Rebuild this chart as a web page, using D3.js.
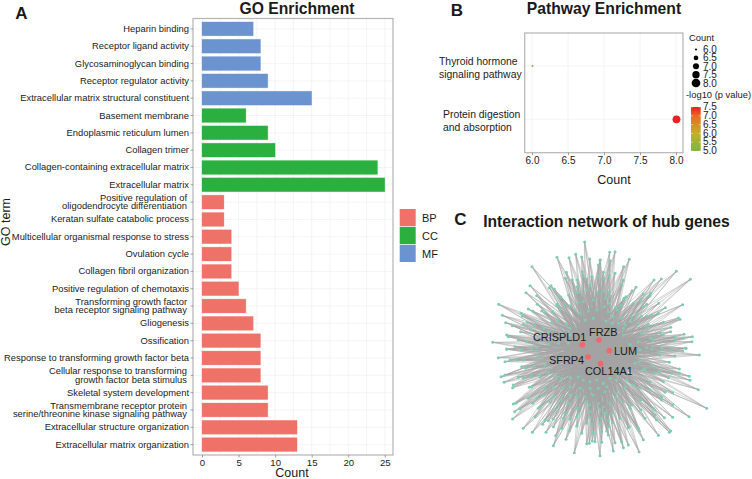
<!DOCTYPE html>
<html><head><meta charset="utf-8">
<script src="https://cdn.jsdelivr.net/npm/d3@7"></script>
<style>html,body{margin:0;padding:0;background:#fff}svg{display:block}text{font-family:"Liberation Sans",Arial,sans-serif;fill:#1a1a1a}</style>
</head><body><div id="c"></div>
<script>
// ---------- Panel A data (bottom to top) ----------
const goTerms = ["Extracellular matrix organization","Extracellular structure organization","Transmembrane receptor protein\nserine/threonine kinase signaling pathway","Skeletal system development","Cellular response to transforming\ngrowth factor beta stimulus","Response to transforming growth factor beta","Ossification","Gliogenesis","Transforming growth factor\nbeta receptor signaling pathway","Positive regulation of chemotaxis","Collagen fibril organization","Ovulation cycle","Multicellular organismal response to stress","Keratan sulfate catabolic process","Positive regulation of\noligodendrocyte differentiation","Extracellular matrix","Collagen-containing extracellular matrix","Collagen trimer","Endoplasmic reticulum lumen","Basement membrane","Extracellular matrix structural constituent","Receptor regulator activity","Glycosaminoglycan binding","Receptor ligand activity","Heparin binding"];
const goCounts = [13,13,9,9,8,8,8,7,6,5,4,4,4,3,3,25,24,10,9,6,15,9,8,8,7];
const goGroups = ["BP","BP","BP","BP","BP","BP","BP","BP","BP","BP","BP","BP","BP","BP","BP","CC","CC","CC","CC","CC","MF","MF","MF","MF","MF"];
const groupNames = ["BP","CC","MF"];
const groupColors = ["#ee7268","#2bb040","#6a93cf"];
const goTicks = [0,5,10,15,20,25];
// ---------- Panel B data ----------
const pathways = ["Protein digestion\nand absorption","Thyroid hormone\nsignaling pathway"];
const pathCounts = [8,6];
const pathLogP = [7.5,5];
const pathTicks = [6,6.5,7,7.5,8];
const sizeLegend = [6,6.5,7,7.5,8];
const colorLegend = [7.5,7,6.5,6,5.5,5];
// ---------- Panel C data ----------
const hubNames = ["CRISPLD1","FRZB","LUM","SFRP4","COL14A1"];
const hubX = [277,327,358,294,332];
const hubY = [329,315,347,366,386];
const leavesNW = [[284,21],[201,67],[237,68],[257,58],[275,66],[299,72],[330,75],[325,90],[126,95],[229,112],[277,110],[280,123],[305,125],[325,125],[226,130],[246,135],[262,135],[290,132],[120,152],[183,152],[178,158],[193,162],[262,155],[268,170],[258,172],[108,173],[140,182],[205,182],[212,186],[236,180],[290,165],[300,150],[320,170],[26,208],[142,208],[202,207],[200,212],[224,208],[240,212],[265,202],[280,200],[310,195],[115,222],[128,228],[155,228],[93,235],[97,243],[37,241],[165,235],[188,230],[210,225],[255,225],[270,235],[295,228],[320,225],[47,263],[67,272],[100,268],[112,262],[135,268],[160,280],[185,262],[205,255],[230,268],[240,280],[285,255],[310,250],[50,300],[92,290],[122,285],[150,295],[175,290],[215,298],[240,300],[8,322],[85,315],[55,305],[110,320],[135,310],[175,328],[205,325],[235,325],[50,342],[75,335],[140,338]];
const leavesNE = [[359,52],[375,50],[418,73],[331,75],[361,77],[401,95],[559,109],[601,133],[492,135],[514,132],[340,112],[375,115],[357,122],[342,130],[400,135],[395,150],[438,157],[426,167],[342,168],[355,172],[482,175],[460,177],[480,183],[408,185],[402,190],[362,183],[348,190],[452,195],[430,205],[400,195],[392,212],[470,208],[506,205],[578,209],[526,218],[343,215],[358,205],[377,217],[382,225],[355,230],[460,215],[505,235],[565,249],[570,253],[485,240],[470,243],[455,243],[440,240],[425,245],[370,245],[395,250],[348,258],[365,265],[385,265],[423,260],[445,265],[475,268],[495,270],[520,262],[542,277],[542,290],[512,293],[520,300],[455,295],[405,270],[400,280],[470,280],[582,298],[607,305],[580,310],[554,305],[555,317],[606,320],[482,310],[490,315],[445,320],[420,328],[400,300],[515,340],[545,340],[588,340]];
const leavesSW = [[25,368],[50,343],[95,345],[125,340],[145,365],[45,380],[60,375],[80,375],[100,375],[95,395],[107,400],[130,395],[165,390],[33,425],[45,420],[85,427],[100,430],[125,425],[150,425],[175,415],[200,425],[215,430],[240,427],[265,425],[280,435],[300,440],[320,435],[340,445],[42,442],[70,450],[68,458],[118,457],[125,455],[165,460],[190,455],[220,460],[240,455],[270,460],[300,460],[325,460],[345,470],[115,490],[140,490],[160,480],[190,485],[215,495],[240,480],[260,485],[285,485],[310,480],[70,507],[78,505],[128,505],[180,502],[205,510],[235,505],[262,520],[290,500],[325,505],[90,522],[145,520],[150,515],[195,525],[225,535],[260,545],[298,510],[300,530],[330,525],[345,535],[74,530],[68,552],[135,545],[165,555],[175,557],[190,552],[220,550],[240,552],[265,535],[300,545],[355,555],[100,580],[127,592],[158,568],[190,575],[215,580],[260,573],[290,565],[305,568],[330,565],[355,575],[168,592],[197,602],[238,588],[275,595],[228,613],[190,632],[310,595],[335,590],[290,626],[298,625],[307,618],[315,620],[253,653],[330,662]];
const leavesSE = [[628,360],[587,340],[578,348],[555,363],[538,382],[506,350],[485,342],[510,360],[450,345],[470,338],[505,410],[510,408],[493,415],[485,390],[465,402],[458,405],[568,402],[568,415],[598,424],[600,436],[545,415],[535,428],[520,440],[480,442],[450,378],[435,385],[625,464],[650,520],[548,473],[525,472],[515,485],[480,465],[450,458],[430,450],[410,435],[380,435],[360,430],[340,445],[350,455],[405,455],[380,475],[375,488],[425,510],[452,495],[490,520],[495,525],[515,495],[548,510],[597,545],[548,547],[523,548],[495,540],[500,555],[452,525],[420,520],[400,500],[360,505],[340,515],[365,535],[345,535],[390,550],[335,550],[368,562],[415,578],[418,575],[445,580],[448,588],[465,550],[505,601],[542,588],[538,592],[460,614],[350,588],[355,600],[375,623],[395,620],[400,638],[335,622],[370,648],[447,650],[415,630]];

const svg = d3.select("#c").append("svg").attr("width",752).attr("height",479);
const grey = "#b4b4b4", grid = "#f1f1f1";

function label(g,x,y,txt,size,opt={}){
  return g.append("text").attr("x",x).attr("y",y).attr("dy","0.35em").attr("font-size",size)
    .attr("text-anchor",opt.anchor||"middle").attr("font-weight",opt.bold?"700":"400").text(txt);
}
function lines(sel,text,size,gap){ // wrapped tick label
  const parts = text.split("\n");
  const x0 = +sel.attr("x") - (parts.length>1?2:0);
  sel.text(null).attr("font-size",size);
  parts.forEach((p,i)=>sel.append("tspan").attr("x",x0)
    .attr("y",(i-(parts.length-1)/2)*gap).attr("dy","0.32em").text(p));
}

// ---------- Panel A ----------
const A = svg.append("g");
const ax = d3.scaleLinear().domain([0,25]).range([202,384.8]);
const ay = d3.scaleBand().domain(goTerms).range([455,18.5]).paddingInner(0.2).paddingOuter(0.2);
const aColor = d3.scaleOrdinal().domain(groupNames).range(groupColors);
const minor = goTicks.slice(0,-1).map(d=>d+2.5);
A.selectAll(".gx").data(goTicks.concat(minor)).join("line").attr("x1",d=>ax(d)).attr("x2",d=>ax(d)).attr("y1",18.5).attr("y2",455).attr("stroke",grid).attr("stroke-width",.8);
A.selectAll(".gy").data(goTerms).join("line").attr("x1",193).attr("x2",393).attr("y1",d=>ay(d)+ay.bandwidth()/2).attr("y2",d=>ay(d)+ay.bandwidth()/2).attr("stroke",grid).attr("stroke-width",.8);
A.selectAll(".bar").data(goTerms).join("rect").attr("x",ax(0)).attr("y",d=>ay(d))
  .attr("width",(d,i)=>ax(goCounts[i])-ax(0)).attr("height",ay.bandwidth())
  .attr("fill",(d,i)=>aColor(goGroups[i]))
  .attr("stroke",(d,i)=>aColor(goGroups[i])).attr("stroke-opacity",.4).attr("stroke-width",.7);
A.append("rect").attr("x",193).attr("y",18.5).attr("width",200).attr("height",436.5).attr("fill","none").attr("stroke",grey).attr("stroke-width",1.2);
const aL = A.append("g").attr("transform","translate(193,0)").call(d3.axisLeft(ay).tickSize(2.5).tickPadding(1.5));
aL.select(".domain").remove(); aL.selectAll("line").attr("stroke","#666").attr("stroke-width",.6);
aL.selectAll("text").each(function(d){lines(d3.select(this),d,9.4,8.4);}).attr("fill","#1a1a1a");
const aB = A.append("g").attr("transform","translate(0,455)").call(d3.axisBottom(ax).tickValues(goTicks).tickSize(2.5).tickPadding(1.5));
aB.select(".domain").remove(); aB.selectAll("line").attr("stroke","#666").attr("stroke-width",.6);
aB.selectAll("text").attr("font-size",9.6).attr("fill","#333");
label(A,297,8.7,"GO Enrichment",15.7,{bold:true});
label(A,21.5,13,"A",17,{bold:true});
label(A,292,473,"Count",12.5);
label(A,0,0,"GO term",12.5).attr("transform","translate(6,222) rotate(-90)");
// legend
const lgY = d3.scaleBand().domain(groupNames).range([209,262]).paddingInner(0.04);
A.selectAll(".lg").data(groupNames).join("rect").attr("x",399.7).attr("width",16).attr("y",d=>lgY(d)).attr("height",lgY.bandwidth()).attr("fill",d=>aColor(d));
groupNames.forEach(d=>label(A,422,lgY(d)+lgY.bandwidth()/2+.5,d,11,{anchor:"start"}));

// ---------- Panel B ----------
const B = svg.append("g");
const bx = d3.scaleLinear().domain([6,8]).range([532,676]);
const by = d3.scalePoint().domain(pathways).range([119.3,66]);
const bSize = d3.scaleLinear().domain([6,8]).range([1,3.9]);
const bColor = d3.scaleLinear().domain([5,6,7,7.5]).range(["#7ab83c","#c3b02a","#ea6a1f","#ee1c25"]);
B.selectAll(".gx").data(pathTicks).join("line").attr("x1",d=>bx(d)).attr("x2",d=>bx(d)).attr("y1",33).attr("y2",152.7).attr("stroke",grid).attr("stroke-width",.8);
B.selectAll(".gy").data(pathways).join("line").attr("x1",524.7).attr("x2",683).attr("y1",d=>by(d)).attr("y2",d=>by(d)).attr("stroke",grid).attr("stroke-width",.8);
B.selectAll(".pt").data(pathways).join("circle").attr("cx",(d,i)=>bx(pathCounts[i])+.5).attr("cy",d=>by(d))
  .attr("r",(d,i)=>bSize(pathCounts[i])).attr("fill",(d,i)=>bColor(pathLogP[i]));
B.append("rect").attr("x",524.7).attr("y",33).attr("width",158.3).attr("height",119.7).attr("fill","none").attr("stroke",grey).attr("stroke-width",1.2);
const bB = B.append("g").attr("transform","translate(0,152.7)").call(d3.axisBottom(bx).tickValues(pathTicks).tickFormat(d3.format(".1f")).tickSize(2.5).tickPadding(2));
bB.select(".domain").remove(); bB.selectAll("line").attr("stroke","#666").attr("stroke-width",.6);
bB.selectAll("text").attr("font-size",10).attr("fill","#333");
const pathLab = [[443,"Protein digestion"],[443,"and absorption"],[439,"Thyroid hormone"],[439,"signaling pathway"]];
pathLab.forEach((p,i)=>label(B,p[0],[114,127,61,74][i],p[1],10.4,{anchor:"start"}));
label(B,604,8.7,"Pathway Enrichment",15.7,{bold:true});
label(B,457,10,"B",17,{bold:true});
label(B,614,180,"Count",12.5);
// size legend
label(B,689,38,"Count",9.4,{anchor:"start"});
const sY = d3.scalePoint().domain(sizeLegend).range([49.5,83]);
const sR = d3.scaleLinear().domain([6,8]).range([1,4.3]);
const sR2 = v=>v===6?1:sR(v)*.8+.9;
B.selectAll(".sl").data(sizeLegend).join("circle").attr("cx",696).attr("cy",d=>sY(d)).attr("r",d=>sR2(d)).attr("fill","#000");
sizeLegend.forEach(d=>label(B,703,sY(d),d3.format(".1f")(d),10,{anchor:"start"}));
// colour legend
label(B,686,95,"-log10 (p value)",9.4,{anchor:"start"});
const cY = d3.scaleLinear().domain([5,7.5]).range([151,107]);
const defs = svg.append("defs");
const lg = defs.append("linearGradient").attr("id","cb").attr("x1",0).attr("x2",0).attr("y1",1).attr("y2",0);
bColor.domain().forEach(v=>lg.append("stop").attr("offset",(v-5)/2.5).attr("stop-color",bColor(v)));
B.append("rect").attr("x",691).attr("y",cY(7.5)).attr("width",9.7).attr("height",cY(5)-cY(7.5)).attr("fill","url(#cb)");
colorLegend.forEach(v=>{
  B.append("line").attr("x1",691).attr("x2",693).attr("y1",cY(v)).attr("y2",cY(v)).attr("stroke","#fff").attr("stroke-width",.5);
  B.append("line").attr("x1",698.7).attr("x2",700.7).attr("y1",cY(v)).attr("y2",cY(v)).attr("stroke","#fff").attr("stroke-width",.5);
  label(B,703,cY(v)-.3,d3.format(".1f")(v),10,{anchor:"start"});
});

// ---------- Panel C ----------
const C = svg.append("g");
const cx = d3.scaleLinear().domain([0,690]).range([490,720]);
const cy = d3.scaleLinear().domain([0,675]).range([235,460]);
const leaves = leavesNW.concat(leavesNE,leavesSW,leavesSE);
const hubs = hubNames.map((n,i)=>({n,x:hubX[i],y:hubY[i]}));
const links = d3.cross(leaves,hubs);
C.selectAll(".lk").data(links).join("line")
  .attr("x1",d=>cx(d[0][0])).attr("y1",d=>cy(d[0][1])).attr("x2",d=>cx(d[1].x)).attr("y2",d=>cy(d[1].y))
  .attr("stroke","#a4a4a4").attr("stroke-opacity",.62).attr("stroke-width",.8);
C.selectAll(".lf").data(leaves).join("circle").attr("cx",d=>cx(d[0])).attr("cy",d=>cy(d[1])).attr("r",1.5).attr("fill","#7dcdb2");
C.selectAll(".hb").data(hubs).join("circle").attr("cx",d=>cx(d.x)).attr("cy",d=>cy(d.y)).attr("r",d=>d.n==="CRISPLD1"?3:2.8).attr("fill","#f0686a");
const hubLabelX=[533,589,614,549,585], hubLabelY=[337,332,351,360,371];
hubs.forEach((h,i)=>label(C,hubLabelX[i],hubLabelY[i],h.n,10.9,{anchor:"start"}));
label(C,606.5,222,"Interaction network of hub genes",15.7,{bold:true});
label(C,460.5,219,"C",17,{bold:true});
</script></body></html>
